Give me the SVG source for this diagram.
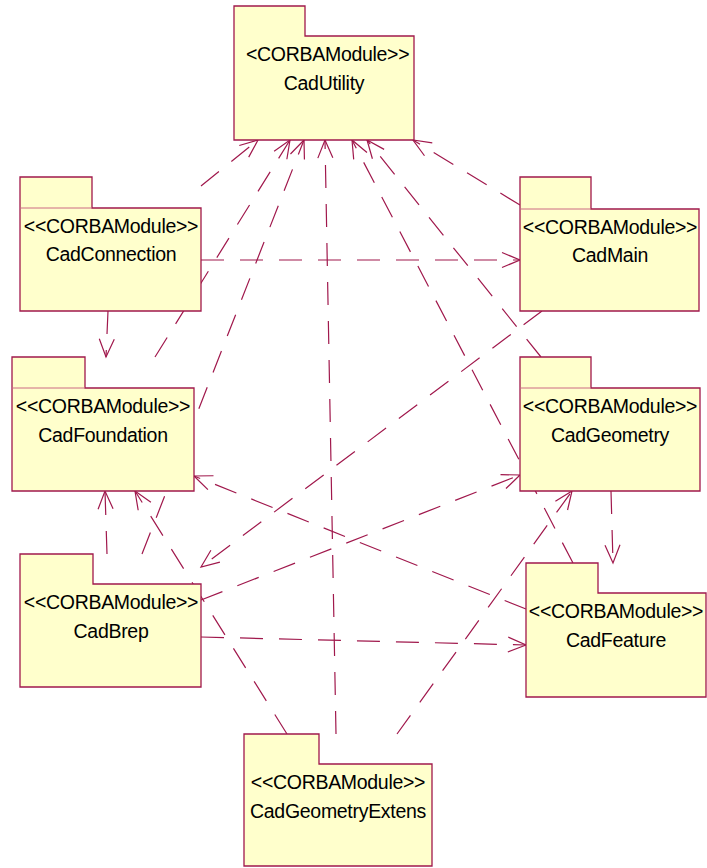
<svg xmlns="http://www.w3.org/2000/svg" width="707" height="868" viewBox="0 0 707 868">
<style>
.pkg{fill:#FFFFCC;stroke:#A0184C;stroke-width:1.3}
.sep{stroke:#CC6A84;stroke-width:1;fill:none}
.t{font-family:"Liberation Sans",Arial,sans-serif;font-size:19.5px;letter-spacing:-0.3px;fill:#000;text-anchor:middle}
.e{fill:none;stroke:#A0184C;stroke-width:1.2;stroke-dasharray:23 16}
</style>
<defs>
<marker id="arr" markerUnits="userSpaceOnUse" markerWidth="30" markerHeight="30" refX="0" refY="0" orient="auto" overflow="visible">
<path d="M-18,-7.5 L0,0 L-18,7.5" fill="none" stroke="#A0184C" stroke-width="1.2"/>
</marker>
</defs>
<rect width="707" height="868" fill="#fff"/>
<g id="connectors">
<line class="e" x1="201" y1="186" x2="258" y2="140" marker-end="url(#arr)"/>
<line class="e" x1="155" y1="357" x2="290" y2="140" marker-end="url(#arr)"/>
<line class="e" x1="142" y1="554" x2="304" y2="140" marker-end="url(#arr)"/>
<line class="e" x1="336" y1="734" x2="325" y2="140" marker-end="url(#arr)"/>
<line class="e" x1="573" y1="563" x2="352" y2="140" marker-end="url(#arr)"/>
<line class="e" x1="541" y1="357" x2="367" y2="140" marker-end="url(#arr)"/>
<line class="e" x1="520" y1="205" x2="413" y2="140" marker-end="url(#arr)"/>
<line class="e" x1="201" y1="260" x2="520" y2="260" marker-end="url(#arr)"/>
<line class="e" x1="108" y1="311" x2="106" y2="357" marker-end="url(#arr)"/>
<line class="e" x1="542" y1="311" x2="201" y2="567" marker-end="url(#arr)"/>
<line class="e" x1="201" y1="600" x2="520" y2="475" marker-end="url(#arr)"/>
<line class="e" x1="201" y1="637" x2="526" y2="645" marker-end="url(#arr)"/>
<line class="e" x1="107" y1="554" x2="105" y2="491" marker-end="url(#arr)"/>
<line class="e" x1="526" y1="609" x2="194" y2="476" marker-end="url(#arr)"/>
<line class="e" x1="287" y1="734" x2="135" y2="491" marker-end="url(#arr)"/>
<line class="e" x1="397" y1="734" x2="572" y2="491" marker-end="url(#arr)"/>
<line class="e" x1="611" y1="491" x2="613" y2="563" marker-end="url(#arr)"/>
</g>
<g id="CadUtility">
<path class="pkg" d="M234,6 H305 V36 H414 V140 H234 Z"/>
<text class="t" x="246" y="61" style="text-anchor:start">&lt;CORBAModule&gt;&gt;</text>
<text class="t" x="324" y="90">CadUtility</text>
</g>
<g id="CadConnection">
<path class="pkg" d="M20,177 H92 V208 H201 V311 H20 Z"/>
<line class="sep" x1="20.5" y1="208" x2="92" y2="208"/>
<text class="t" x="111" y="233">&lt;&lt;CORBAModule&gt;&gt;</text>
<text class="t" x="111" y="261">CadConnection</text>
</g>
<g id="CadMain">
<path class="pkg" d="M520,177 H591 V209 H699 V311 H520 Z"/>
<line class="sep" x1="520.5" y1="209" x2="591" y2="209"/>
<text class="t" x="610" y="234">&lt;&lt;CORBAModule&gt;&gt;</text>
<text class="t" x="610" y="262">CadMain</text>
</g>
<g id="CadFoundation">
<path class="pkg" d="M12,357 H85 V388 H194 V491 H12 Z"/>
<line class="sep" x1="12.5" y1="388" x2="85" y2="388"/>
<text class="t" x="103" y="413">&lt;&lt;CORBAModule&gt;&gt;</text>
<text class="t" x="103" y="442">CadFoundation</text>
</g>
<g id="CadGeometry">
<path class="pkg" d="M520,357 H591 V388 H700 V491 H520 Z"/>
<line class="sep" x1="520.5" y1="388" x2="591" y2="388"/>
<text class="t" x="610" y="413">&lt;&lt;CORBAModule&gt;&gt;</text>
<text class="t" x="610" y="442">CadGeometry</text>
</g>
<g id="CadBrep">
<path class="pkg" d="M20,554 H93 V584 H201 V687 H20 Z"/>
<text class="t" x="111" y="609">&lt;&lt;CORBAModule&gt;&gt;</text>
<text class="t" x="111" y="638">CadBrep</text>
</g>
<g id="CadFeature">
<path class="pkg" d="M526,563 H598 V593 H706 V697 H526 Z"/>
<text class="t" x="616" y="618">&lt;&lt;CORBAModule&gt;&gt;</text>
<text class="t" x="616" y="647">CadFeature</text>
</g>
<g id="CadGeometryExtens">
<path class="pkg" d="M244,734 H319 V764 H432 V866 H244 Z"/>
<text class="t" x="338" y="789">&lt;&lt;CORBAModule&gt;&gt;</text>
<text class="t" x="338" y="818">CadGeometryExtens</text>
</g>
</svg>
